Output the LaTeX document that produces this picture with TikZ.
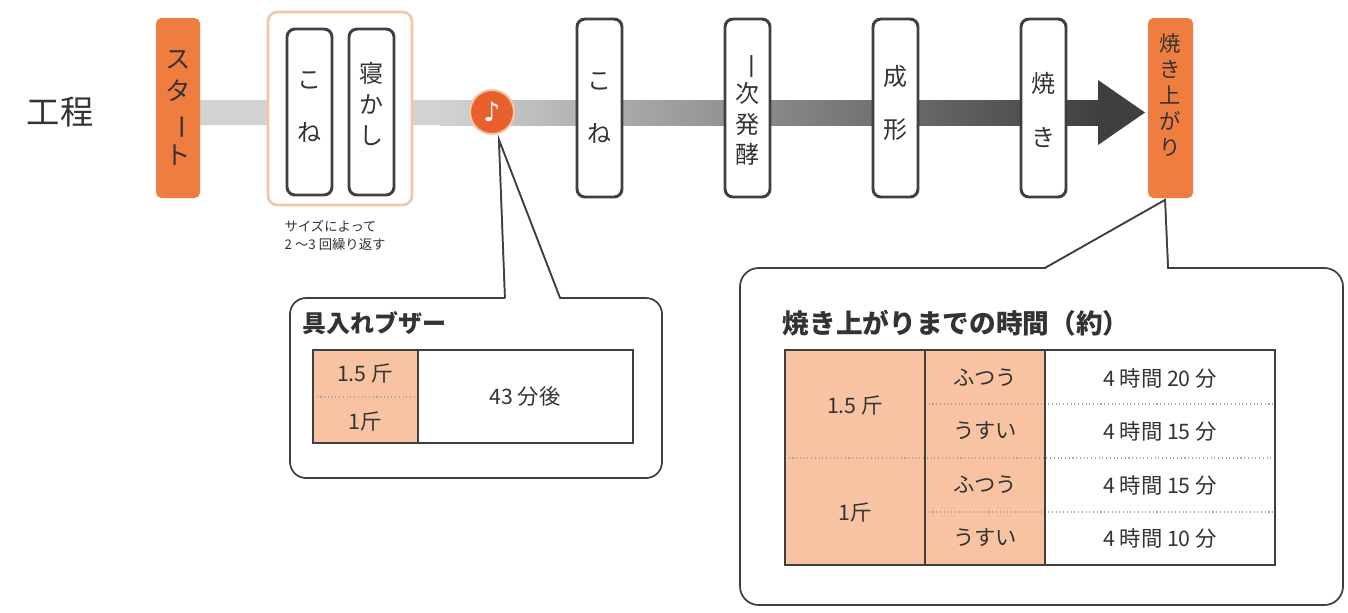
\documentclass[tikz,border=0pt]{standalone}
\usepackage{fontspec}
\setmainfont{Noto Sans CJK JP}
\newfontfamily\djv{DejaVu Sans}
\begin{document}
\begin{tikzpicture}[x=0.75pt,y=-0.75pt,
  orng/.style={fill=orange1,draw=none,rounded corners=4pt},
  stepbox/.style={draw=dkline,line width=2.2pt,fill=white,rounded corners=6pt},
  vt/.style={font=\fontsize{18}{23}\selectfont,text=txt,align=center,inner sep=0pt},
  cell/.style={font=\fontsize{16}{19}\selectfont,text=txt},
  callout/.style={draw=dkline,line width=1.3pt,fill=white},
  dotl/.style={draw=gray!70,dotted,line width=0.8pt}]
\definecolor{orange1}{HTML}{F07D40}
\definecolor{orange2}{HTML}{E8602C}
\definecolor{dkline}{HTML}{3F3F3F}
\definecolor{txt}{HTML}{333333}
\definecolor{peach}{HTML}{F8C3A3}
\definecolor{peachb}{HTML}{F3C6A8}
\newcommand{\vbar}{\rotatebox[origin=c]{-90}{ー}}
\newcommand{\vone}{\rotatebox[origin=c]{-90}{一}}
\useasboundingbox (0,0) rectangle (1348,612);
\fill[white] (0,0) rectangle (1348,612);
% title
\node[font=\fontsize{25}{28}\selectfont,text=txt] (t) at (60,112) {工程};
% bar
\fill[gray!35] (200,100) rectangle (440,125);
\shade[left color=gray!35,right color=dkline] (440,100) rectangle (1100,125);
\fill[dkline] (1098,80) -- (1145,112.5) -- (1098,145) -- cycle;
% start / end
\filldraw[orng] (156,18) rectangle (200,198);
\node[vt,font=\fontsize{19}{24}\selectfont,text=txt] (s) at (178,108) {ス\\タ\\\vbar\\ト};
\filldraw[orng] (1148,18) rectangle (1193,198);
\node[vt,font=\fontsize{16}{19.5}\selectfont] (e) at (1170.5,95) {焼\\き\\上\\が\\り};
% group
\draw[draw=peachb,line width=2pt,fill=white,rounded corners=7pt] (268,12) rectangle (412,205);
\draw[stepbox] (287,29) rectangle (332,195);
\node[vt,font=\fontsize{18}{40}\selectfont] (k1) at (309.5,107) {こ\\ね};
\draw[stepbox] (349,29) rectangle (394,195);
\node[vt] (n1) at (371.5,104) {寝\\か\\し};
\node[font=\fontsize{10}{13.5}\selectfont,text=txt,align=left,anchor=north west] (note) at (280,215) {サイズによって\\2 ～3 回繰り返す};
% steps
\draw[stepbox] (577,19) rectangle (622,197);
\node[vt,font=\fontsize{18}{40}\selectfont] (k2) at (599.5,108) {こ\\ね};
\draw[stepbox] (725,19) rectangle (770,197);
\node[vt] (s2) at (747.5,110) {\vone\\次\\発\\酵};
\draw[stepbox] (873,19) rectangle (918,197);
\node[vt,font=\fontsize{18}{40}\selectfont] (s3) at (895.5,103) {成\\形};
\draw[stepbox] (1021,19) rectangle (1066,197);
\node[vt,font=\fontsize{18}{40}\selectfont] (s4) at (1043.5,110) {焼\\き};
% buzzer circle
\node[circle,fill=orange2,draw=peachb,line width=1.5pt,minimum size=44pt*0.75,inner sep=0pt,text=white,font=\djv\fontsize{20}{20}\selectfont] (bz) at (492,112) {♪};
% callout 1
\path[callout,rounded corners=12pt] (505,298) [sharp corners]-- (499,140) -- (560,298) [rounded corners=12pt] -- (662,298) -- (662,478) -- (290,478) -- (290,298) -- (505,298);
\draw[callout] (505,298) -- (499,140) -- (560,298);
\node[font=\fontsize{18}{21}\selectfont\bfseries,text=txt,anchor=west] (h1) at (298,323) {具入れブザー};
\fill[peach] (313,350) rectangle (418,443);
\draw[dotl] (313,397) -- (418,397);
\draw[dkline,line width=0.8pt] (313,350) rectangle (633,443) (418,350) -- (418,443);
\node[cell] (a1) at (365,373) {1.5 斤};
\node[cell] (a2) at (365,421) {1斤};
\node[cell] (a3) at (525,396) {43 分後};
% callout 2
\path[callout,rounded corners=14pt] (1045,268) [sharp corners]-- (1165,200) -- (1168,268) [rounded corners=14pt] -- (1343,268) -- (1343,605) -- (740,605) -- (740,268) -- (1045,268);
\draw[callout] (1045,268) -- (1165,200) -- (1168,268);
\node[font=\fontsize{20}{23}\selectfont\bfseries,text=txt,anchor=west] (h2) at (778,323) {焼き上がりまでの時間（約）};
\fill[peach] (785,350) rectangle (1045,565);
\draw[dotl] (925,404) -- (1275,404) (785,458) -- (1275,458) (925,512) -- (1275,512);
\draw[dkline,line width=0.8pt] (785,350) rectangle (1275,565) (925,350) -- (925,565) (1045,350) -- (1045,565);
\node[cell] (b1) at (855,405) {1.5 斤};
\node[cell] (b2) at (855,512) {1斤};
\node[cell] (c1) at (985,378) {ふつう};
\node[cell] (c2) at (985,431) {うすい};
\node[cell] (c3) at (985,485) {ふつう};
\node[cell] (c4) at (985,538) {うすい};
\node[cell] (d1) at (1160,378) {4 時間 20 分};
\node[cell] (d2) at (1160,431) {4 時間 15 分};
\node[cell] (d3) at (1160,485) {4 時間 15 分};
\node[cell] (d4) at (1160,538) {4 時間 10 分};
\end{tikzpicture}
\end{document}
